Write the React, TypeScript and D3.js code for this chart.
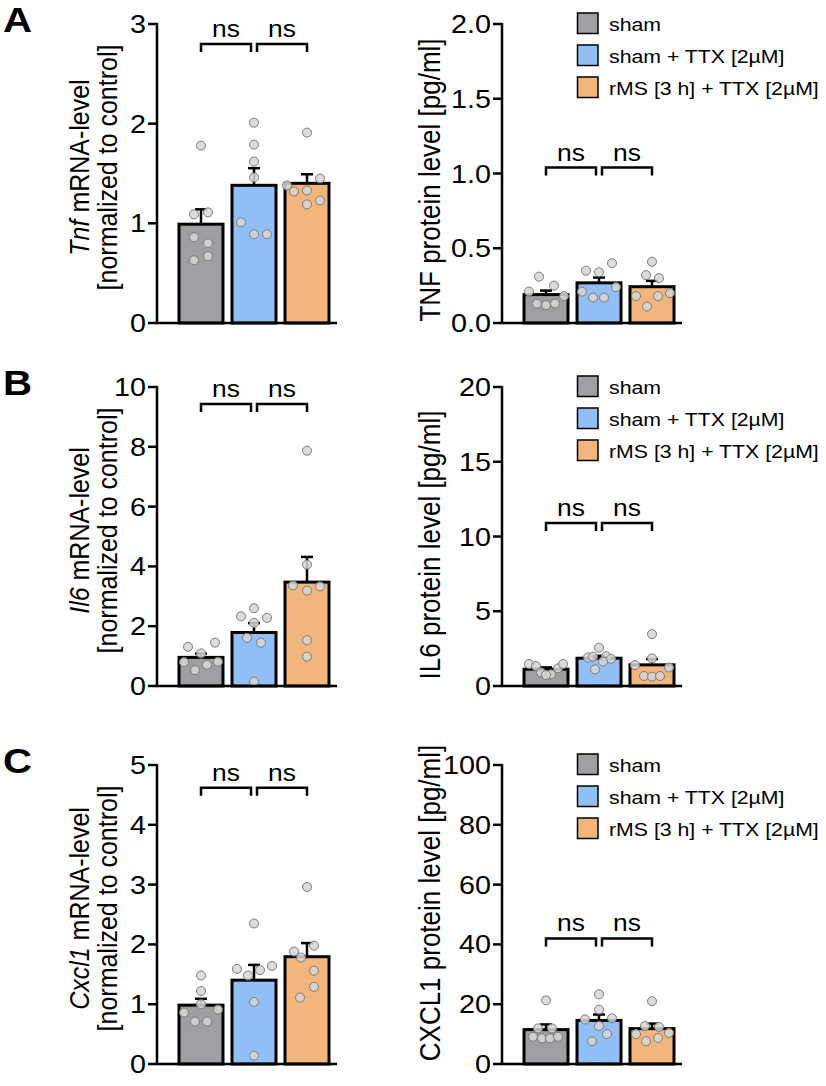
import React from "react";
import * as d3 from "d3";

// ---------- data ----------
const groups = ["sham", "sham + TTX [2µM]", "rMS [3 h] + TTX [2µM]"];

const tnfMrna = [
  [1.78, 1.09, 1.11, 0.86, 0.8, 0.63, 0.67],
  [2.01, 1.79, 1.62, 1.46, 1.01, 0.89, 0.89],
  [1.91, 1.45, 1.38, 1.32, 1.33, 1.19, 1.23],
];
const tnfMrnaJitter = [
  [0, -7, 7, -7, 7, -7, 7],
  [0, 0, 0, 0, -13, 0, 13],
  [0, 13, -20, -13, 0, 0, 13],
];
const tnfProt = [
  [0.31, 0.21, 0.25, 0.18, 0.13, 0.12, 0.13],
  [0.35, 0.34, 0.4, 0.21, 0.17, 0.17, 0.24],
  [0.41, 0.32, 0.3, 0.18, 0.18, 0.2, 0.11],
];
const tnfProtJitter = [
  [-7, -17, 8, 18, -9, 0, 9],
  [-13, 0, 13, -17, -6, 5, 17],
  [0, -6, 7, -16, 6, 18, -5],
];
const il6Mrna = [
  [1.31, 1.45, 1.09, 0.8, 0.71, 0.81, 0.53],
  [2.6, 2.33, 2.28, 2.11, 1.61, 1.45, 0.15],
  [7.87, 4.06, 3.36, 3.19, 3.33, 1.53, 0.98],
];
const il6MrnaJitter = [
  [-13, 14, 0, -17, 6, 17, -6],
  [0, -13, 13, 0, -7, 7, 0],
  [0, 0, -14, 0, 13, 0, 0],
];
const il6Prot = [
  [1.47, 1.33, 0.91, 0.78, 0.73, 1.18, 1.47],
  [2.56, 1.91, 1.96, 2.0, 1.82, 1.64, 1.11],
  [3.47, 1.84, 1.4, 1.24, 0.67, 0.62, 0.67],
];
const il6ProtJitter = [
  [-17, -10, -5, 5, 0, 12, 17],
  [0, -11, -6, 7, 12, 4, -4],
  [0, 0, -17, 17, -8, 0, 8],
];
const cxcl1Mrna = [
  [1.48, 1.22, 1.0, 0.86, 0.91, 0.71, 0.71],
  [2.35, 1.59, 1.48, 1.57, 1.64, 1.04, 0.14],
  [2.96, 1.98, 1.88, 1.78, 1.56, 1.29, 1.11],
];
const cxcl1MrnaJitter = [
  [0, 0, 0, -17, 17, -6, 6],
  [0, -17, -6, 6, 18, 0, 0],
  [0, 7, -13, -6, 7, 7, -7],
];
const cxcl1Prot = [
  [21.3, 11.9, 11.9, 9.1, 8.6, 8.6, 9.1],
  [23.3, 18.2, 14.9, 15.3, 12.7, 10, 7.6],
  [21, 12.7, 12.4, 10, 10.4, 7.6, 8.7],
];
const cxcl1ProtJitter = [
  [0, -8, 6, -13, -4, 4, 12],
  [0, 0, -14, 13, 0, 8, -7],
  [0, -7, 7, -16, 17, -6, 6],
];

const tnfMrnaTicks = [0, 1, 2, 3];
const tnfProtTicks = [0, 0.5, 1.0, 1.5, 2.0];
const il6MrnaTicks = [0, 2, 4, 6, 8, 10];
const il6ProtTicks = [0, 5, 10, 15, 20];
const cxcl1MrnaTicks = [0, 1, 2, 3, 4, 5];
const cxcl1ProtTicks = [0, 20, 40, 60, 80, 100];

// significance bracket heights (data units)
const bracketLevels = { tnfMrna: 2.8, tnfProt: 1.04, il6Mrna: 9.43, il6Prot: 10.9, cxcl1Mrna: 4.62, cxcl1Prot: 42 };
const sigLabels = ["ns", "ns"];

// ---------- styles ----------
const COLORS = ["#9e9ea3", "#92c0f6", "#f2b57c"];
const FONT = "'Liberation Sans', Arial, Helvetica, sans-serif";
const PANEL_H = 299;
const SX = 1.15; // horizontal stretch of the original lettering

type PanelProps = {
  top: number;
  axisX: number;
  values: number[][];
  jitter: number[][];
  ticks: number[];
  fmt: (v: number) => string;
  bracket: number;
  titleLines: React.ReactNode[];
  titleCenter?: number;
  legend?: boolean;
  letter?: string;
};

function Panel({ top, axisX, values, jitter, ticks, fmt, bracket, titleLines, titleCenter, legend, letter }: PanelProps) {
  const yMax = ticks[ticks.length - 1];
  const y = d3.scaleLinear().domain([0, yMax]).range([top + PANEL_H, top]);
  const x = d3
    .scaleBand<string>()
    .domain(groups)
    .range([axisX + 22, axisX + 172])
    .paddingInner(9 / 53)
    .paddingOuter(0);
  const bw = x.bandwidth();
  const stats = values.map((v) => {
    const m = d3.mean(v) as number;
    const sd = d3.deviation(v) as number;
    return { mean: m, sem: sd / Math.sqrt(v.length) };
  });
  const cx = (i: number) => (x(groups[i]) as number) + bw / 2;
  const by = y(bracket);
  const baseY = y(0);
  const n = titleLines.length;
  return (
    <g fontFamily={FONT}>
      {letter && (
        <text transform={`translate(3,${top + 8}) scale(1.15,1)`} fontSize={35} fontWeight="bold" fill="#000">
          {letter}
        </text>
      )}
      {/* axis title */}
      {titleLines.map((t, i) => {
        const bx = n === 1 ? axisX - 62 : axisX - 40 - (n - 1 - i) * 28;
        const cyT = top + (titleCenter ?? PANEL_H / 2 - 6);
        return (
          <text
            key={i}
            transform={`translate(${bx},${cyT}) rotate(-90) scale(1,1.1)`}
            textAnchor="middle"
            fontSize={n === 1 ? 26 : 25}
            fill="#000"
          >
            {t}
          </text>
        );
      })}
      {/* bars */}
      {stats.map((s, i) => (
        <rect
          key={"b" + i}
          x={x(groups[i])}
          y={y(s.mean)}
          width={bw}
          height={baseY - y(s.mean)}
          fill={COLORS[i]}
          stroke="#000"
          strokeWidth={3}
        />
      ))}
      {/* error bars */}
      {stats.map((s, i) => (
        <g key={"e" + i} stroke="#000" strokeWidth={2.5}>
          <line x1={cx(i)} x2={cx(i)} y1={y(s.mean)} y2={y(s.mean + s.sem)} />
          <line x1={cx(i) - 6} x2={cx(i) + 6} y1={y(s.mean + s.sem)} y2={y(s.mean + s.sem)} />
        </g>
      ))}
      {/* points */}
      {values.map((v, i) =>
        v.map((d, j) => (
          <circle
            key={`p${i}-${j}`}
            cx={cx(i) + jitter[i][j]}
            cy={y(d)}
            r={4.5}
            fill="#d6d6d6"
            fillOpacity={0.85}
            stroke="#7a7a7a"
            strokeWidth={1}
          />
        ))
      )}
      {/* axes */}
      <line x1={axisX} x2={axisX} y1={top - 1} y2={baseY} stroke="#000" strokeWidth={2.5} />
      <line x1={axisX - 1.25} x2={axisX + 180} y1={baseY} y2={baseY} stroke="#000" strokeWidth={2.5} />
      {ticks.map((t) => (
        <g key={"t" + t}>
          <line x1={axisX - 9} x2={axisX} y1={y(t)} y2={y(t)} stroke="#000" strokeWidth={2.5} />
          <text
            transform={`translate(${axisX - 11},${y(t)}) scale(${SX},1)`}
            dy="0.36em"
            textAnchor="end"
            fontSize={25}
            fill="#000"
          >
            {fmt(t)}
          </text>
        </g>
      ))}
      {/* brackets */}
      {[0, 1].map((k) => {
        const x1 = k === 0 ? cx(0) : cx(1) + 3;
        const x2 = k === 0 ? cx(1) - 3 : cx(2);
        return (
          <g key={"br" + k}>
            <path
              d={`M${x1},${by + 8}V${by}H${x2}V${by + 8}`}
              fill="none"
              stroke="#000"
              strokeWidth={2.5}
            />
            <text
              transform={`translate(${(x1 + x2) / 2},${by - 7}) scale(1.1,1)`}
              textAnchor="middle"
              fontSize={24}
              fill="#000"
            >
              {sigLabels[k]}
            </text>
          </g>
        );
      })}
      {/* legend */}
      {legend &&
        groups.map((g, i) => (
          <g key={"l" + i}>
            <rect x={577.5} y={top - 11 + i * 32} width={20.5} height={20.5} fill={COLORS[i]} stroke="#000" strokeWidth={1.5} />
            <text transform={`translate(609,${top - 11 + i * 32 + 18}) scale(1.15,1)`} fontSize={18.5} fill="#000">
              {g}
            </text>
          </g>
        ))}
    </g>
  );
}

const intFmt = (v: number) => d3.format("d")(v);
const oneDec = (v: number) => d3.format(".1f")(v);

export default function App() {
  const tops = [24, 387, 765];
  const L = 157;
  const R = 502;
  return (
    <svg
      width={826}
      height={1086}
      style={{ position: "absolute", left: 0, top: 0, background: "#fff" }}
    >
      <Panel
        top={tops[0]}
        axisX={L}
        values={tnfMrna}
        jitter={tnfMrnaJitter}
        ticks={tnfMrnaTicks}
        fmt={intFmt}
        bracket={bracketLevels.tnfMrna}
        letter="A"
        titleLines={[
          <>
            <tspan fontStyle="italic">Tnf</tspan> mRNA-level
          </>,
          "[normalized to control]",
        ]}
      />
      <Panel
        top={tops[0]}
        axisX={R}
        values={tnfProt}
        jitter={tnfProtJitter}
        ticks={tnfProtTicks}
        fmt={oneDec}
        bracket={bracketLevels.tnfProt}
        legend
        titleCenter={156}
        titleLines={["TNF protein level [pg/ml]"]}
      />
      <Panel
        top={tops[1]}
        axisX={L}
        values={il6Mrna}
        jitter={il6MrnaJitter}
        ticks={il6MrnaTicks}
        fmt={intFmt}
        bracket={bracketLevels.il6Mrna}
        letter="B"
        titleLines={[
          <>
            <tspan fontStyle="italic">Il6</tspan> mRNA-level
          </>,
          "[normalized to control]",
        ]}
      />
      <Panel
        top={tops[1]}
        axisX={R}
        values={il6Prot}
        jitter={il6ProtJitter}
        ticks={il6ProtTicks}
        fmt={intFmt}
        bracket={bracketLevels.il6Prot}
        legend
        titleCenter={158}
        titleLines={["IL6 protein level [pg/ml]"]}
      />
      <Panel
        top={tops[2]}
        axisX={L}
        values={cxcl1Mrna}
        jitter={cxcl1MrnaJitter}
        ticks={cxcl1MrnaTicks}
        fmt={intFmt}
        bracket={bracketLevels.cxcl1Mrna}
        letter="C"
        titleLines={[
          <>
            <tspan fontStyle="italic">Cxcl1</tspan> mRNA-level
          </>,
          "[normalized to control]",
        ]}
      />
      <Panel
        top={tops[2]}
        axisX={R}
        values={cxcl1Prot}
        jitter={cxcl1ProtJitter}
        ticks={cxcl1ProtTicks}
        fmt={intFmt}
        bracket={bracketLevels.cxcl1Prot}
        legend
        titleCenter={138}
        titleLines={["CXCL1 protein level [pg/ml]"]}
      />
    </svg>
  );
}
